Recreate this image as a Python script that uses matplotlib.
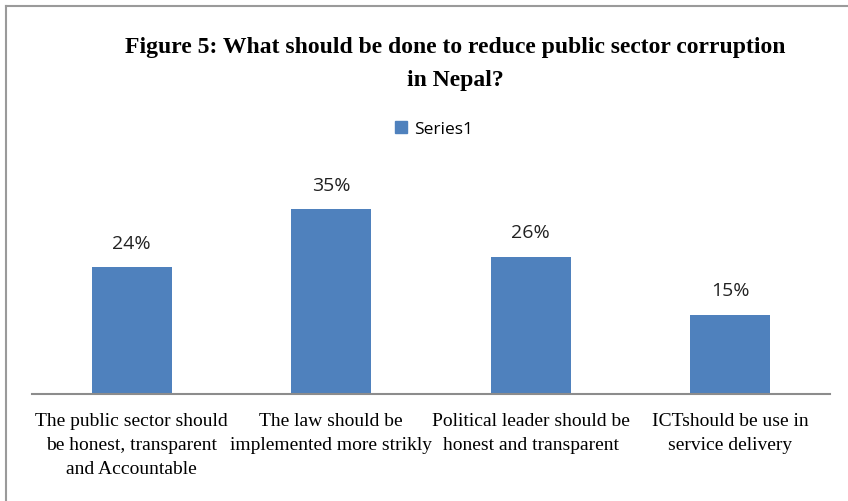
import matplotlib.pyplot as plt
from matplotlib.lines import Line2D
from matplotlib.patches import Patch

categories = [
    "The public sector should\nbe honest, transparent\nand Accountable",
    "The law should be\nimplemented more strikly",
    "Political leader should be\nhonest and transparent",
    "ICTshould be use in\nservice delivery",
]
values = [0.24, 0.35, 0.26, 0.15]
series_name = "Series1"

W, H = 848, 502
fig = plt.figure(figsize=(W / 100, H / 100), dpi=100)
fig.patch.set_facecolor('white')

# frame of the cropped screenshot (top and left only)
fig.add_artist(Line2D([6 / W, 1], [1 - 7 / H, 1 - 7 / H], color='#9a9a9a', lw=1.5))
fig.add_artist(Line2D([6 / W, 6 / W], [0, 1 - 7 / H], color='#9a9a9a', lw=1.5))

# axes: x from 32 to 830 px, baseline at y=395, 40% at y=184
ax = fig.add_axes([32 / W, 1 - 395 / H, 798 / W, 211 / H])
x = list(range(len(categories)))
bars = ax.bar(x, values, width=0.4, color='#4F81BD')
ax.set_xlim(-0.5, len(categories) - 0.5)
ax.set_ylim(0, 0.40)

for spine in ['top', 'right', 'left']:
    ax.spines[spine].set_visible(False)
ax.spines['bottom'].set_color('#8c8c8c')
ax.spines['bottom'].set_linewidth(1.5)
ax.set_yticks([])
ax.set_xticks(x)
ax.set_xticklabels(categories, fontfamily='Liberation Serif', fontsize=14,
                   linespacing=1.55, ha='center', va='top')
ax.tick_params(axis='x', length=0, pad=13)

for b, v in zip(bars, values):
    ax.text(b.get_x() + b.get_width() / 2, v + 0.047, f"{v:.0%}",
            ha='center', va='center', fontsize=14, fontfamily='Open Sans',
            color='#222222')

fig.text(455 / W, 1 - 64 / H,
         "Figure 5: What should be done to reduce public sector corruption\nin Nepal?",
         ha='center', va='center', fontfamily='Liberation Serif', fontweight='bold',
         fontsize=17, linespacing=1.75)

leg = fig.legend(handles=[Patch(color='#4F81BD', label=series_name)],
                 loc='center', bbox_to_anchor=(434 / W, 1 - 130 / H), frameon=False,
                 prop={'family': 'Open Sans', 'size': 12.5}, handlelength=0.7,
                 handleheight=0.7, handletextpad=0.4)

fig.savefig("out.png", dpi=100, facecolor='white')
